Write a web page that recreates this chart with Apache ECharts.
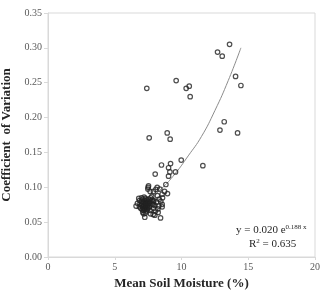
<!DOCTYPE html>
<html>
<head>
<meta charset="utf-8">
<script src="https://cdn.jsdelivr.net/npm/echarts@6/dist/echarts.min.js"></script>
<style>
  html, body { margin: 0; padding: 0; background: #fff; }
  #chart { width: 325px; height: 290px; }
</style>
</head>
<body>
<div id="chart"></div>
<script>
// mean soil moisture (%) of each site
var moisture = [
  13.6, 12.7, 13.05, 9.6, 10.58, 10.35, 10.65, 7.4, 14.05, 14.45,
  13.2, 12.88, 14.2, 7.58, 8.93, 9.15, 9.98, 11.6, 8.5, 9.18,
  9.03, 9.13, 9.55, 9.03, 8.03, 8.83, 7.53, 7.5,
  8.18, 8.38, 7.48, 7.65, 7.9, 8.08, 8.73, 8.95, 8.55, 8.2,
  7.78, 8.58, 8.33, 7.93, 8.45, 8.13, 8.55, 8.3, 7.88, 8.55,
  8.23, 8.05, 7.68, 7.88, 8.0, 8.43, 8.25, 7.25, 7.18, 6.6,
  6.7, 6.85,
  7.0, 7.1, 7.2, 7.3, 7.4, 7.5, 7.0, 7.1, 7.2, 7.3,
  7.4, 7.5, 7.6, 6.9, 7.0, 7.1, 7.2, 7.3, 7.4, 7.5,
  6.95, 7.05, 7.15, 7.25, 7.35, 7.45, 7.6, 7.1, 7.3, 7.7,
  7.8, 7.9, 7.65, 6.8, 6.85, 7.55, 7.7, 7.8, 7.9, 8.0,
  7.05, 7.25, 7.45, 7.15, 7.35, 7.55
];
// coefficient of variation of each site
var cv = [
  0.305, 0.294, 0.288, 0.253, 0.245, 0.242, 0.230, 0.242, 0.259, 0.246,
  0.194, 0.182, 0.178, 0.171, 0.178, 0.169, 0.139, 0.131, 0.132, 0.134,
  0.128, 0.122, 0.122, 0.116, 0.119, 0.104, 0.102, 0.100,
  0.100, 0.0975, 0.0975, 0.094, 0.094, 0.097, 0.094, 0.091, 0.090, 0.088,
  0.087, 0.085, 0.083, 0.081, 0.080, 0.079, 0.0755, 0.073, 0.075, 0.072,
  0.069, 0.066, 0.062, 0.061, 0.060, 0.056, 0.064, 0.057, 0.062, 0.073,
  0.077, 0.081,
  0.085, 0.083, 0.086, 0.084, 0.082, 0.080, 0.080, 0.078, 0.079, 0.077,
  0.078, 0.075, 0.077, 0.076, 0.074, 0.072, 0.074, 0.071, 0.073, 0.070,
  0.070, 0.068, 0.067, 0.069, 0.066, 0.068, 0.072, 0.064, 0.063, 0.080,
  0.076, 0.070, 0.067, 0.084, 0.072, 0.083, 0.085, 0.082, 0.079, 0.074,
  0.076, 0.081, 0.071, 0.070, 0.075, 0.078
];
// exponential trend line
var trendX = [6.6, 7.5, 8.5, 9.5, 10.5, 11.5, 12.5, 13.5, 14.45];
var trendY = [0.069, 0.082, 0.098, 0.119, 0.145, 0.173, 0.21, 0.253, 0.30];

var xTicks = [0, 5, 10, 15, 20];

var serif = '"Liberation Serif", "Times New Roman", serif';

var points = moisture.map(function (x, i) { return [x, cv[i]]; });
var trend = trendX.map(function (x, i) { return [x, trendY[i]]; });

var chart = echarts.init(document.getElementById('chart'));
chart.setOption({
  animation: false,
  backgroundColor: '#fff',
  grid: {
    left: 48, right: 10, top: 13, bottom: 33,
    outerBoundsMode: 'none',
    containLabel: false,
    show: true, borderColor: '#d9d9d9', borderWidth: 1
  },
  xAxis: {
    type: 'value', min: 0, max: 20, interval: 5,
    name: 'Mean Soil Moisture (%)',
    nameLocation: 'middle', nameGap: 20,
    nameTextStyle: { fontFamily: serif, fontSize: 13, fontWeight: 'bold', color: '#262626' },
    axisLine: { lineStyle: { color: '#d9d9d9' } },
    axisTick: { show: true, length: 3, lineStyle: { color: '#d9d9d9' } },
    axisLabel: {
      fontFamily: serif, fontSize: 10, color: '#595959', margin: 5,
      formatter: function (v) { return xTicks.indexOf(v) >= 0 ? String(v) : ''; }
    },
    splitLine: { show: false }
  },
  yAxis: {
    type: 'value', min: 0, max: 0.35, interval: 0.05,
    name: 'Coefficient  of Variation',
    nameLocation: 'middle', nameGap: 29,
    nameTextStyle: { fontFamily: serif, fontSize: 13, fontWeight: 'bold', color: '#262626' },
    axisLine: { show: true, lineStyle: { color: '#d9d9d9' } },
    axisTick: { show: true, length: 4, lineStyle: { color: '#d9d9d9' } },
    axisLabel: {
      fontFamily: serif, fontSize: 10, color: '#595959', margin: 6,
      formatter: function (v) { return v.toFixed(2); }
    },
    splitLine: { show: false }
  },
  series: [
    {
      type: 'line',
      data: trend,
      smooth: true,
      showSymbol: false,
      z: 1,
      lineStyle: { color: '#8c8c8c', width: 1 }
    },
    {
      type: 'scatter',
      data: points,
      symbol: 'circle',
      symbolSize: 4.5,
      z: 2,
      itemStyle: { color: 'rgba(255,255,255,0)', borderColor: '#222', borderWidth: 1.2 }
    }
  ],
  graphic: [
    {
      type: 'text', left: 236, top: 224,
      style: {
        text: 'y = 0.020 e{s|0.188 x}',
        font: '11px ' + serif, fill: '#262626',
        rich: { s: { fontSize: 7, fontFamily: serif, verticalAlign: 'top', padding: [0, 0, 5, 0] } }
      }
    },
    {
      type: 'text', left: 249, top: 238,
      style: {
        text: 'R{s|2} = 0.635',
        font: '11px ' + serif, fill: '#262626',
        rich: { s: { fontSize: 7, fontFamily: serif, padding: [0, 0, 5, 0] } }
      }
    }
  ]
});
</script>
</body>
</html>
